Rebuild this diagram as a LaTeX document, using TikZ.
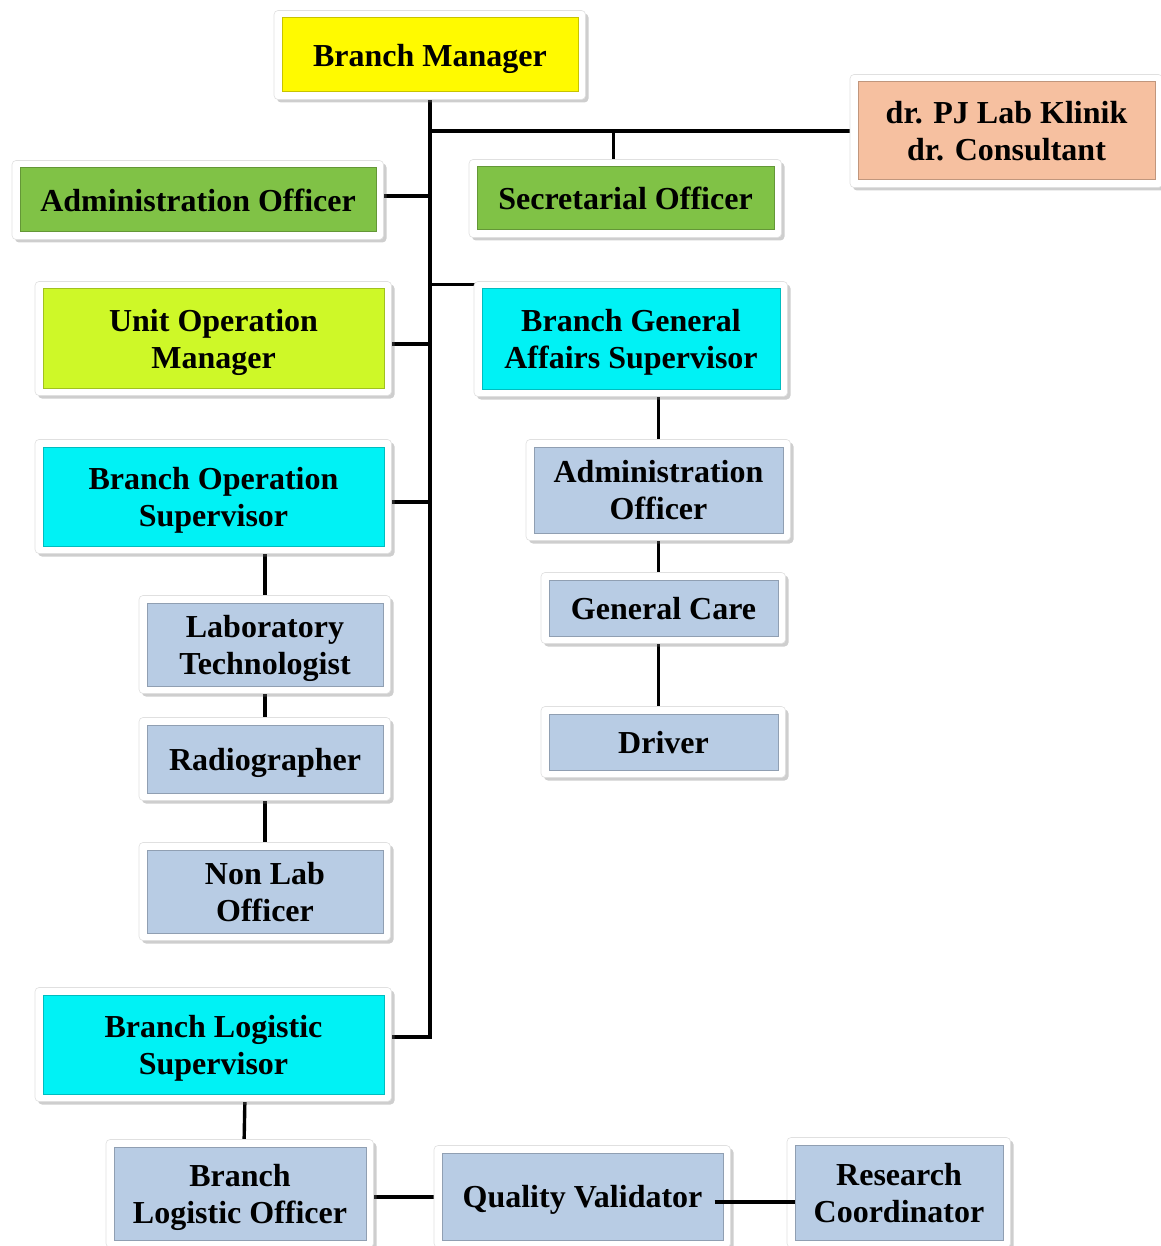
\documentclass[tikz,border=0pt]{standalone}
\usepackage{fontspec}
\setmainfont{Liberation Serif}
\usepackage{tikz}
\usetikzlibrary{positioning,shadows,backgrounds}
\usepackage{xcolor}

\definecolor{bmyellow}{RGB}{255,250,0}
\definecolor{peach}{RGB}{246,192,160}
\definecolor{leaf}{RGB}{128,194,70}
\definecolor{lime}{RGB}{206,248,40}
\definecolor{aqua}{RGB}{0,242,245}
\definecolor{steel}{RGB}{184,204,228}

% text sits a little below the middle of each box
\newcommand\boxtext[1]{\raisebox{-4pt}[\height][\depth]{\begin{tabular}{@{}c@{}}#1\end{tabular}}}

\tikzset{
  post/.style={rectangle, fill=#1, draw=#1!78!black, line width=1pt, inner sep=0pt,
    align=center, font=\bfseries\fontsize{32}{37}\selectfont},
  dims/.style 2 args={minimum width=#1pt, minimum height=#2pt},
  frame/.style={fill=white, draw=black!12, line width=0.6pt, rounded corners=4pt,
    drop shadow={shadow xshift=3pt, shadow yshift=-3pt, opacity=0.35, fill=black!55}},
  link/.style={line width=3.4pt}
}

\begin{document}
\begin{tikzpicture}[auto,x=1pt,y=-1pt]
  \useasboundingbox (0,0) rectangle (1160,1246);

  \node[post=bmyellow, dims={296}{74}] (bm)   at (430,55)      {\boxtext{Branch Manager}};
  \node[post=peach,    dims={297}{98}] (pj)   at (1006.5,131)  {\boxtext{dr. PJ Lab Klinik\\dr. Consultant}};
  \node[post=leaf,     dims={356}{64}] (adml) at (198,200)     {\boxtext{Administration Officer}};
  \node[post=leaf,     dims={297}{63}] (sec)  at (625.5,198.5) {\boxtext{Secretarial Officer}};
  \node[post=lime,     dims={341}{99}] (uom)  at (213.5,338.5) {\boxtext{Unit Operation\\Manager}};
  \node[post=aqua,     dims={298}{100}] (bgas) at (631,339)    {\boxtext{Branch General\\Affairs Supervisor}};
  \node[post=aqua,     dims={341}{99}] (bos)  at (213.5,496.5) {\boxtext{Branch Operation\\Supervisor}};
  \node[post=steel,    dims={249}{86}] (admr) at (658.5,490)   {\boxtext{Administration\\Officer}};
  \node[post=steel,    dims={229}{56}] (gc)   at (663.5,608)   {\boxtext{General Care}};
  \node[post=steel,    dims={229}{56}] (drv)  at (663.5,742)   {\boxtext{Driver}};
  \node[post=steel,    dims={236}{83}] (lab)  at (265,644.5)   {\boxtext{Laboratory\\Technologist}};
  \node[post=steel,    dims={236}{68}] (rad)  at (265,759)     {\boxtext{Radiographer}};
  \node[post=steel,    dims={236}{83}] (nlo)  at (265,891.5)   {\boxtext{Non Lab\\Officer}};
  \node[post=aqua,     dims={341}{99}] (bls)  at (213.5,1044.5) {\boxtext{Branch Logistic\\Supervisor}};
  \node[post=steel,    dims={252}{93}] (blo)  at (240,1193.5)  {\boxtext{Branch\\Logistic Officer}};
  \node[post=steel,    dims={281}{87}] (qv)   at (582.5,1196.5) {\boxtext{Quality Validator}};
  \node[post=steel,    dims={208}{95}] (rc)   at (899,1192.5)  {\boxtext{Research\\Coordinator}};

  \begin{scope}[on background layer]
    % connectors first, frames cover their ends
    \draw[link] (bm.south) -- ([yshift=7.5pt]bm.south |- bls.east) -- ([yshift=7.5pt]bls.east);
    \draw[link] (bm.south |- pj.west) -- (pj.west);
    \draw[link] ([xshift=-12pt]sec.north) -- ([xshift=-12pt]sec.north |- pj.west);
    \draw[link] ([yshift=4pt]adml.east) -- ([yshift=4pt]bm.south |- adml.east);
    \draw[link] ([yshift=4pt]bm.south |- bgas.north) -- ([yshift=4pt]bgas.north west);
    \draw[link] ([yshift=-5.5pt]uom.east) -- ([yshift=-5.5pt]bm.south |- uom.east);
    \draw[link] ([yshift=-5.5pt]bos.east) -- ([yshift=-5.5pt]bm.south |- bos.east);
    \draw[link] (admr.north) -- (admr.north |- bgas.south);
    \draw[link] (admr.south) -- (admr.south |- gc.north);
    \draw[link] (admr.south |- gc.south) -- (admr.south |- drv.north);
    \draw[link] (lab.north) -- (lab.north |- bos.south);
    \draw[link] (lab) -- (rad);
    \draw[link] (rad) -- (nlo);
    \draw[link] ([xshift=4pt]blo.north) -- ([xshift=5pt]blo.north |- bls.south);
    \draw[link] ([yshift=-3.5pt]blo.east) -- ([yshift=-3.5pt]blo.east -| qv.west);
    % white frames
    \foreach \n in {bm,pj,adml,sec,uom,bgas,bos,admr,gc,drv,lab,rad,nlo,bls,blo,qv,rc}
      \draw[frame] ([xshift=-7.5pt,yshift=-7pt]\n.south west) rectangle ([xshift=7pt,yshift=7pt]\n.north east);
  \end{scope}

  \draw[link] ([xshift=-9pt,yshift=-5.5pt]qv.east) -- ([yshift=-9.5pt]rc.west);
\end{tikzpicture}
\end{document}
